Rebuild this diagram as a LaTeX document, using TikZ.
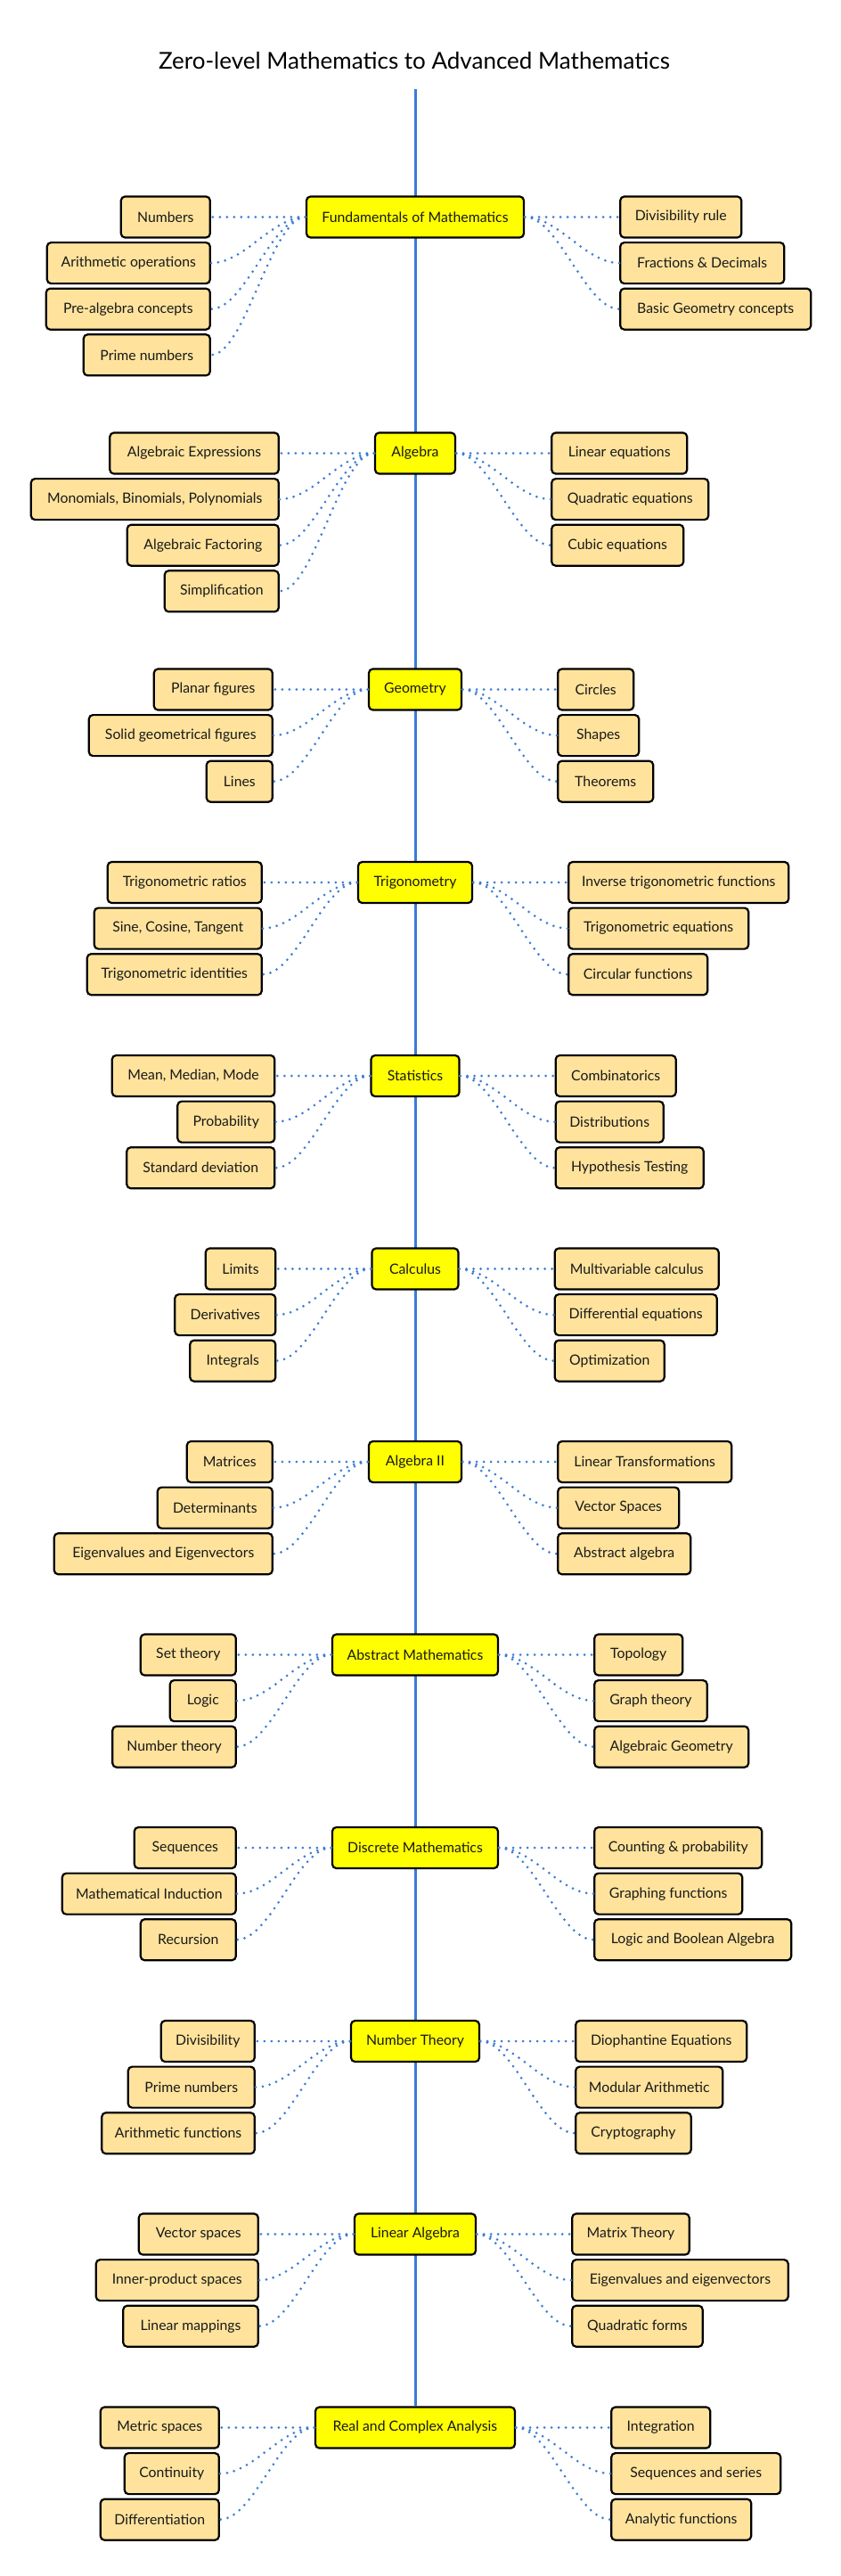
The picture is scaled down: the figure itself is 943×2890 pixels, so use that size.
\documentclass[tikz,border=0pt]{standalone}
\usepackage{fontspec}
\setmainfont{Lato}
\usetikzlibrary{calc,backgrounds}
\definecolor{kidfill}{HTML}{FFE39C}
\definecolor{topfill}{HTML}{FFFF00}
\definecolor{linkblue}{HTML}{3A7BD5}
\definecolor{spine}{HTML}{3A7BD8}
\tikzset{
  box/.style={draw=black, line width=2.2pt, rounded corners=4.5pt, minimum height=46pt,
    inner sep=0pt, text=black!90, font=\fontsize{15.8}{18}\selectfont},
  kid/.style={box, fill=kidfill},
  topic/.style={box, fill=topfill},
  conn/.style={draw=linkblue, line width=3pt, line cap=round, dash pattern=on 0pt off 8pt},
  spineline/.style={draw=spine, line width=3pt},
}
\newcommand\lk[5]{%
  \node[kid, minimum width=#4pt, anchor=east] (#1) at ($(#2.west)+(-106,#3*51.6)$) {#5};
  \draw[conn] (#2.west) .. controls +(-38,0) and +(38,0) .. (#1.east);}
\newcommand\rk[5]{%
  \node[kid, minimum width=#4pt, anchor=west] (#1) at ($(#2.east)+(106,#3*51.6)$) {#5};
  \draw[conn] (#2.east) .. controls +(38,0) and +(-38,0) .. (#1.west);}
\begin{document}
\begin{tikzpicture}[x=1pt,y=-1pt]
\useasboundingbox (0,0) rectangle (943,2890);
\node[font=\fontsize{26}{30}\selectfont, text=black] (title) at (465,68) {Zero-level Mathematics to Advanced Mathematics};
\coordinate (spinetop) at (466,100);

% 1
\node[topic, minimum width=244pt] (fund) at (466,243.5) {Fundamentals of Mathematics};
\lk{f1}{fund}{0}{100}{Numbers}
\lk{f2}{fund}{1}{183}{Arithmetic operations}
\lk{f3}{fund}{2}{184}{Pre-algebra concepts}
\lk{f4}{fund}{3}{142}{Prime numbers}
\rk{f5}{fund}{0}{136}{Divisibility rule}
\rk{f6}{fund}{1}{184}{Fractions \& Decimals}
\rk{f7}{fund}{2}{214}{Basic Geometry concepts}

% 2
\node[topic, minimum width=90pt] (alg) at (466,508.5) {Algebra};
\lk{a1}{alg}{0}{189.5}{Algebraic Expressions}
\lk{a2}{alg}{1}{278}{Monomials, Binomials, Polynomials}
\lk{a3}{alg}{2}{170}{Algebraic Factoring}
\lk{a4}{alg}{3}{128}{Simplification}
\rk{a5}{alg}{0}{152}{Linear equations}
\rk{a6}{alg}{1}{176}{Quadratic equations}
\rk{a7}{alg}{2}{148}{Cubic equations}

% 3
\node[topic, minimum width=104pt] (geo) at (466,773.5) {Geometry};
\lk{g1}{geo}{0}{133}{Planar figures}
\lk{g2}{geo}{1}{206}{Solid geometrical figures}
\lk{g3}{geo}{2}{74}{Lines}
\rk{g4}{geo}{0}{85}{Circles}
\rk{g5}{geo}{1}{91}{Shapes}
\rk{g6}{geo}{2}{107}{Theorems}

% 4
\node[topic, minimum width=128pt] (trig) at (466,990) {Trigonometry};
\lk{t1}{trig}{0}{173}{Trigonometric ratios}
\lk{t2}{trig}{1}{188}{Sine, Cosine, Tangent}
\lk{t3}{trig}{2}{196}{Trigonometric identities}
\rk{t4}{trig}{0}{247}{Inverse trigonometric functions}
\rk{t5}{trig}{1}{202}{Trigonometric equations}
\rk{t6}{trig}{2}{156}{Circular functions}

% 5
\node[topic, minimum width=99pt] (stat) at (466,1207) {Statistics};
\lk{s1}{stat}{0}{182.5}{Mean, Median, Mode}
\lk{s2}{stat}{1}{109}{Probability}
\lk{s3}{stat}{2}{166}{Standard deviation}
\rk{s4}{stat}{0}{135}{Combinatorics}
\rk{s5}{stat}{1}{121}{Distributions}
\rk{s6}{stat}{2}{166}{Hypothesis Testing}

% 6
\node[topic, minimum width=97pt] (calc) at (466,1423.5) {Calculus};
\lk{c1}{calc}{0}{78.5}{Limits}
\lk{c2}{calc}{1}{113}{Derivatives}
\lk{c3}{calc}{2}{96}{Integrals}
\rk{c4}{calc}{0}{184}{Multivariable calculus}
\rk{c5}{calc}{1}{182}{Differential equations}
\rk{c6}{calc}{2}{123}{Optimization}

% 7
\node[topic, minimum width=104pt] (algb) at (466,1640) {Algebra II};
\lk{b1}{algb}{0}{96}{Matrices}
\lk{b2}{algb}{1}{129}{Determinants}
\lk{b3}{algb}{2}{245}{Eigenvalues and Eigenvectors}
\rk{b4}{algb}{0}{195}{Linear Transformations}
\rk{b5}{algb}{1}{136}{Vector Spaces}
\rk{b6}{algb}{2}{149}{Abstract algebra}

% 8
\node[topic, minimum width=186pt] (abs) at (466,1856.5) {Abstract Mathematics};
\lk{m1}{abs}{0}{107}{Set theory}
\lk{m2}{abs}{1}{74}{Logic}
\lk{m3}{abs}{2}{138.5}{Number theory}
\rk{m4}{abs}{0}{99}{Topology}
\rk{m5}{abs}{1}{126.5}{Graph theory}
\rk{m6}{abs}{2}{173}{Algebraic Geometry}

% 9
\node[topic, minimum width=186pt] (disc) at (466,2073) {Discrete Mathematics};
\lk{d1}{disc}{0}{114}{Sequences}
\lk{d2}{disc}{1}{195}{Mathematical Induction}
\lk{d3}{disc}{2}{107}{Recursion}
\rk{d4}{disc}{0}{188}{Counting \& probability}
\rk{d5}{disc}{1}{166}{Graphing functions}
\rk{d6}{disc}{2}{221}{Logic and Boolean Algebra}

% 10
\node[topic, minimum width=144pt] (nt) at (466,2290) {Number Theory};
\lk{n1}{nt}{0}{105}{Divisibility}
\lk{n2}{nt}{1}{142}{Prime numbers}
\lk{n3}{nt}{2}{171.5}{Arithmetic functions}
\rk{n4}{nt}{0}{192}{Diophantine Equations}
\rk{n5}{nt}{1}{165}{Modular Arithmetic}
\rk{n6}{nt}{2}{129.5}{Cryptography}

% 11
\node[topic, minimum width=136pt] (la) at (466,2506.5) {Linear Algebra};
\lk{l1}{la}{0}{134}{Vector spaces}
\lk{l2}{la}{1}{182}{Inner-product spaces}
\lk{l3}{la}{2}{151.5}{Linear mappings}
\rk{l4}{la}{0}{131.5}{Matrix Theory}
\rk{l5}{la}{1}{242.5}{Eigenvalues and eigenvectors}
\rk{l6}{la}{2}{146.5}{Quadratic forms}

% 12
\node[topic, minimum width=224pt] (rca) at (466,2723.5) {Real and Complex Analysis};
\lk{r1}{rca}{0}{133}{Metric spaces}
\lk{r2}{rca}{1}{106}{Continuity}
\lk{r3}{rca}{2}{133}{Differentiation}
\rk{r4}{rca}{0}{111}{Integration}
\rk{r5}{rca}{1}{190}{Sequences and series}
\rk{r6}{rca}{2}{157}{Analytic functions}

\begin{scope}[on background layer]
\draw[spineline] (spinetop) -- (rca.north);
\end{scope}
\end{tikzpicture}
\end{document}
